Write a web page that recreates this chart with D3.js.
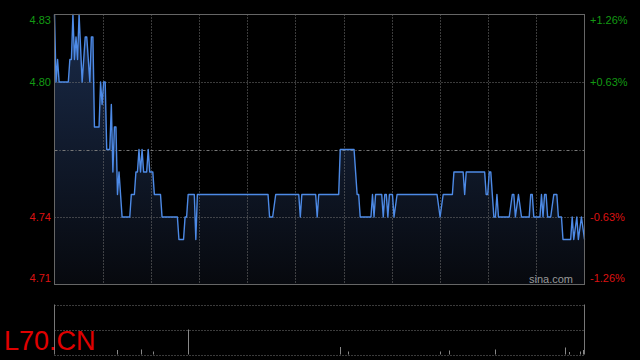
<!DOCTYPE html>
<html>
<head>
<meta charset="utf-8">
<script src="https://cdn.jsdelivr.net/npm/d3@7"></script>
<style>
  html, body { margin: 0; padding: 0; background: #000; }
  svg { display: block; font-family: "Liberation Sans", Arial, sans-serif; }
</style>
</head>
<body>
<div id="chart"></div>
<script>
// Intraday price chart L70.CN (sina style), minute index vs price

const symbol = "L70.CN";
const prevClose = 4.77;
const totalMinutes = 345;

// price vertices: minute index, price
const minutes = [0, 1, 2, 3, 9, 10, 11, 12, 13, 14, 15, 16, 18, 20, 21, 23, 24, 25, 26, 29,
  30, 31, 32, 33, 34, 36, 37, 38, 39, 40, 41, 42, 44, 49, 50, 52, 53, 54, 55, 56,
  57, 58, 60, 61, 62, 64, 65, 69, 70, 80, 81, 84, 85, 86, 87, 91, 92, 93, 139, 140,
  142, 144, 159, 160, 161, 170, 171, 172, 185, 186, 195, 197, 198, 199, 206, 207, 208, 209, 213, 214,
  215, 216, 217, 218, 220, 221, 223, 249, 251, 253, 259, 260, 266, 267, 268, 280, 281, 282, 283, 284,
  286, 287, 288, 289, 296, 298, 299, 300, 302, 304, 309, 310, 311, 312, 316, 317, 318, 319, 320, 321,
  323, 325, 327, 328, 330, 331, 336, 337, 338, 340, 341, 343, 345];
const prices = [4.83, 4.80, 4.81, 4.80, 4.80, 4.81, 4.81, 4.83, 4.81, 4.82, 4.81, 4.83, 4.80, 4.82, 4.82, 4.80, 4.82, 4.82, 4.78, 4.78,
  4.80, 4.79, 4.80, 4.80, 4.77, 4.77, 4.79, 4.76, 4.78, 4.78, 4.75, 4.76, 4.74, 4.74, 4.75, 4.75, 4.76, 4.76, 4.77, 4.76,
  4.77, 4.76, 4.76, 4.77, 4.76, 4.76, 4.75, 4.75, 4.74, 4.74, 4.73, 4.73, 4.74, 4.74, 4.75, 4.75, 4.73, 4.75, 4.75, 4.74,
  4.74, 4.75, 4.75, 4.74, 4.75, 4.75, 4.74, 4.75, 4.75, 4.77, 4.77, 4.75, 4.75, 4.74, 4.74, 4.75, 4.74, 4.75, 4.75, 4.74,
  4.75, 4.75, 4.74, 4.75, 4.75, 4.74, 4.75, 4.75, 4.74, 4.75, 4.75, 4.76, 4.76, 4.75, 4.76, 4.76, 4.75, 4.75, 4.76, 4.76,
  4.74, 4.74, 4.75, 4.74, 4.74, 4.75, 4.75, 4.74, 4.75, 4.74, 4.74, 4.75, 4.75, 4.74, 4.74, 4.75, 4.74, 4.75, 4.75, 4.74,
  4.74, 4.75, 4.75, 4.74, 4.74, 4.73, 4.73, 4.74, 4.73, 4.74, 4.73, 4.74, 4.73];

// volume bars
const volMinutes = [41, 56, 64, 87, 186, 191, 251, 257, 287, 332, 335, 342, 344];
const volumes = [9, 10, 6, 50, 15, 6, 6, 8, 10, 14, 5, 6, 9];

// axis labels
const priceTicks = [4.83, 4.80, 4.74, 4.71];
const pctTicks = ["+1.26%", "+0.63%", "-0.63%", "-1.26%"];

const W = 640, H = 360;
const pL = 54.5, pR = 584.5, pT = 14.5, pB = 284.5; // main panel edges
const vT = 304.5, vB = 354.5;                       // volume panel edges
const green = "#139a13", red = "#dd1212", gridColor = "#777";

const svg = d3.select("#chart").append("svg")
  .attr("width", W).attr("height", H);

const x = d3.scaleLinear().domain([0, totalMinutes]).range([pL, pR]);
const y = d3.scaleLinear().domain([4.71, 4.83]).range([pB, pT]);
const yVol = d3.scaleLinear().domain([0, 100]).range([vB, vT]);

const data = minutes.map((m, i) => ({ m, p: prices[i] }));

// gradient under the line
const defs = svg.append("defs");
const grad = defs.append("linearGradient")
  .attr("id", "fill").attr("gradientUnits", "userSpaceOnUse")
  .attr("x1", 0).attr("y1", pT).attr("x2", 0).attr("y2", pB);
grad.append("stop").attr("offset", 0).attr("stop-color", "#1a2b4a");
grad.append("stop").attr("offset", 1).attr("stop-color", "#07090e");

// area + line
svg.append("path")
  .datum(data)
  .attr("fill", "url(#fill)")
  .attr("d", d3.area().x(d => x(d.m)).y0(pB).y1(d => y(d.p)));

// vertical grid (11 equal divisions)
const vLines = d3.range(1, 11).map(k => totalMinutes * k / 11);
svg.append("g").selectAll("line").data(vLines).join("line")
  .attr("x1", d => Math.round(x(d)) + 0.5).attr("x2", d => Math.round(x(d)) + 0.5)
  .attr("y1", pT).attr("y2", pB)
  .attr("stroke", gridColor).attr("stroke-dasharray", "1,2");

// horizontal grid
svg.append("g").selectAll("line").data([4.80, 4.74]).join("line")
  .attr("x1", pL).attr("x2", pR)
  .attr("y1", d => Math.round(y(d)) + 0.5).attr("y2", d => Math.round(y(d)) + 0.5)
  .attr("stroke", gridColor).attr("stroke-dasharray", "1,2");

svg.append("line")
  .attr("x1", pL).attr("x2", pR)
  .attr("y1", Math.round(y(prevClose)) + 0.5).attr("y2", Math.round(y(prevClose)) + 0.5)
  .attr("stroke", gridColor).attr("stroke-dasharray", "3,2,1,2");

svg.append("path")
  .datum(data)
  .attr("fill", "none")
  .attr("stroke", "#4d8ae6")
  .attr("stroke-width", 1.4)
  .attr("stroke-linejoin", "round")
  .attr("d", d3.line().x(d => x(d.m)).y(d => y(d.p)));

// frame
svg.append("rect")
  .attr("x", pL).attr("y", pT).attr("width", pR - pL).attr("height", pB - pT)
  .attr("fill", "none").attr("stroke", "#666");

// left price labels
svg.append("g").selectAll("text").data(priceTicks).join("text")
  .attr("x", 51)
  .attr("y", (d, i) => i === 0 ? y(d) + 6 : i === 3 ? y(d) - 6 : y(d))
  .attr("dy", "0.35em")
  .attr("text-anchor", "end")
  .attr("font-size", 11)
  .attr("fill", d => d > prevClose ? green : red)
  .text(d => d.toFixed(2));

// right percent labels
svg.append("g").selectAll("text").data(pctTicks).join("text")
  .attr("x", 590)
  .attr("y", (d, i) => i === 0 ? y(priceTicks[i]) + 6 : i === 3 ? y(priceTicks[i]) - 6 : y(priceTicks[i]))
  .attr("dy", "0.35em")
  .attr("font-size", 11)
  .attr("fill", d => d[0] === "+" ? green : red)
  .text(d => d);

svg.append("text")
  .attr("x", 573).attr("y", 279).attr("dy", "0.35em")
  .attr("text-anchor", "end")
  .attr("font-size", 11)
  .attr("fill", "#999")
  .text("sina.com");

// volume panel
svg.append("g").selectAll("line").data([vT, (vT + vB) / 2, vB]).join("line")
  .attr("x1", pL).attr("x2", pR)
  .attr("y1", d => Math.round(d) + 0.5).attr("y2", d => Math.round(d) + 0.5)
  .attr("stroke", gridColor).attr("stroke-dasharray", "1,2");

svg.append("g").selectAll("line").data([pL, pR]).join("line")
  .attr("x1", d => d).attr("x2", d => d)
  .attr("y1", vT).attr("y2", vB)
  .attr("stroke", "#777");

svg.append("g").selectAll("line").data(volMinutes).join("line")
  .attr("x1", d => Math.round(x(d)) + 0.5).attr("x2", d => Math.round(x(d)) + 0.5)
  .attr("y1", vB).attr("y2", (d, i) => yVol(volumes[i]))
  .attr("stroke", "#888");

svg.append("text")
  .attr("x", 4).attr("y", 350)
  .attr("font-size", 27)
  .attr("fill", "#e00000")
  .text(symbol);
</script>
</body>
</html>
